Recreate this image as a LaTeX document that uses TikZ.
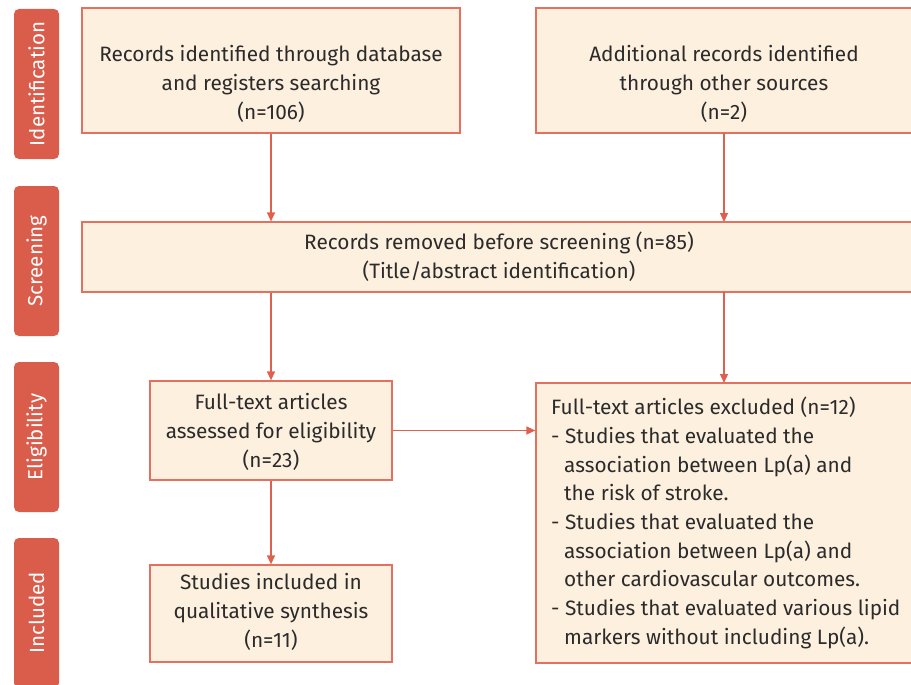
\documentclass[tikz,border=0pt]{standalone}
\usepackage{fontspec}
\setmainfont{Fira Sans}
\usetikzlibrary{arrows.meta}
\definecolor{tabred}{HTML}{DA5D4C}
\definecolor{boxline}{HTML}{E4705F}
\definecolor{boxfill}{HTML}{FDF0DF}
\definecolor{arrowred}{HTML}{E0604F}
\definecolor{txt}{HTML}{2B2B2B}
\begin{document}
\begin{tikzpicture}[x=1pt,y=-1pt,
  tabbox/.style={fill=tabred,draw=none,rounded corners=5pt,minimum width=45pt,minimum height=150pt,inner sep=0pt},
  tablabel/.style={rotate=90,text=white,font=\fontsize{20.5}{24}\selectfont},
  flowbox/.style={draw=boxline,line width=1.2pt,fill=boxfill,inner sep=0pt},
  flowtext/.style={text=txt,align=center,font=\fontsize{20.8}{28.7}\selectfont,inner sep=0pt},
  conn/.style={draw=arrowred,line width=1.2pt,-{Triangle[length=9pt,width=8pt]}}]
\useasboundingbox (0,0) rectangle (911,685);
% phase tabs
\node[tabbox] (tabI) at (36.5,84) {};
\node[tablabel] (labI) at (tabI.center) {Identification};
\node[tabbox] (tabS) at (36.5,261) {};
\node[tablabel] (labS) at (tabS.center) {Screening};
\node[tabbox] (tabE) at (36.5,437) {};
\node[tablabel] (labE) at (tabE.center) {Eligibility};
\node[tabbox] (tabN) at (36.5,613) {};
\node[tablabel] (labN) at (tabN.center) {Included};
% boxes
\node[flowbox,minimum width=378pt,minimum height=125pt] (b1) at (271,70.5) {};
\node[flowtext] (t1) at (271,84) {Records identified through database\\and registers searching\\(n=106)};
\node[flowbox,minimum width=380pt,minimum height=125pt] (b2) at (726,70.5) {};
\node[flowtext] (t2) at (724,84) {Additional records identified\\through other sources\\(n=2)};
\node[flowbox,minimum width=834pt,minimum height=70pt] (b3) at (499,257) {};
\node[flowtext] (t3) at (b3.center) {Records removed before screening (n=85)\\(Title/abstract identification)};
\node[flowbox,minimum width=242pt,minimum height=99pt] (b4) at (271,430.5) {};
\node[flowtext] (t4) at (271,432) {Full-text articles\\assessed for eligibility\\(n=23)};
\node[flowbox,minimum width=380pt,minimum height=280pt] (b5) at (726,523) {};
\node[flowtext,align=left,anchor=west] (t5) at (551,523) {Full-text articles excluded (n=12)\\- Studies that evaluated the\\\hspace*{13pt}association between Lp(a) and\\\hspace*{13pt}the risk of stroke.\\- Studies that evaluated the\\\hspace*{13pt}association between Lp(a) and\\\hspace*{13pt}other cardiovascular outcomes.\\- Studies that evaluated various lipid\\\hspace*{13pt}markers without including Lp(a).};
\node[flowbox,minimum width=242pt,minimum height=97pt] (b6) at (271,613.5) {};
\node[flowtext] (t6) at (271,612) {Studies included in\\qualitative synthesis\\(n=11)};
% connectors
\draw[conn] (b1.south) -- (b1.south |- b3.north);
\draw[conn] (724,133) -- (724,222);
\draw[conn] (b3.south -| b4.north) -- (b4.north);
\draw[conn] (724,292) -- (724,383);
\draw[conn] (b4.east) -- (b4.east -| b5.west);
\draw[conn] (b4.south) -- (b6.north);
\end{tikzpicture}
\end{document}
